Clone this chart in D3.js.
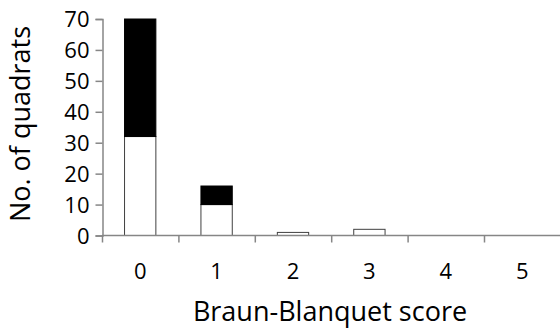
<!DOCTYPE html>
<html>
<head>
<meta charset="utf-8">
<script src="https://cdn.jsdelivr.net/npm/d3@7"></script>
<style>
  body { margin: 0; background: #fff; }
  text { font-family: "Open Sans", "Liberation Sans", sans-serif; fill: #000; }
</style>
</head>
<body>
<script>
// categories and the two stacked series
var scores = ["0", "1", "2", "3", "4", "5"];
var whiteVals = [32, 10, 1, 2, 0, 0];
var blackVals = [38, 6, 0, 0, 0, 0];
var yTicks = [0, 10, 20, 30, 40, 50, 60, 70];

var W = 560, H = 331;
var margin = {top: 19, right: 0, bottom: 96, left: 102};

var svg = d3.select("body").append("svg")
  .attr("width", W)
  .attr("height", H);

var x = d3.scaleBand()
  .domain(scores)
  .range([margin.left, margin.left + 6 * 76.4])
  .paddingInner(0)
  .paddingOuter(0);

var y = d3.scaleLinear()
  .domain([0, 70])
  .range([H - margin.bottom + 0.5, margin.top]);

var barW = x.bandwidth() * 0.41;

var data = scores.map(function(s, i) {
  return {score: s, white: whiteVals[i], black: blackVals[i]};
});

// white part
svg.selectAll(".wbar")
  .data(data.filter(function(d) { return d.white > 0; }))
  .enter().append("rect")
  .attr("class", "wbar")
  .attr("x", function(d) { return x(d.score) + (x.bandwidth() - barW) / 2; })
  .attr("width", barW)
  .attr("y", function(d) { return y(d.white); })
  .attr("height", function(d) { return y(0) - y(d.white); })
  .attr("fill", "#fff")
  .attr("stroke", "#404040")
  .attr("stroke-width", 1);

// black part on top
svg.selectAll(".bbar")
  .data(data.filter(function(d) { return d.black > 0; }))
  .enter().append("rect")
  .attr("class", "bbar")
  .attr("x", function(d) { return x(d.score) + (x.bandwidth() - barW) / 2; })
  .attr("width", barW)
  .attr("y", function(d) { return y(d.white + d.black); })
  .attr("height", function(d) { return y(d.white) - y(d.white + d.black); })
  .attr("fill", "#000")
  .attr("stroke", "#000")
  .attr("stroke-width", 1);

// y axis
var yAxis = d3.axisLeft(y).tickValues(yTicks).tickSize(7).tickPadding(6);
var gy = svg.append("g")
  .attr("transform", "translate(" + (margin.left + 0.5) + ",0)")
  .call(yAxis);
gy.select(".domain").attr("stroke", "#868686").attr("stroke-width", 1.5);
gy.selectAll(".tick line").attr("stroke", "#868686").attr("stroke-width", 1.5);
gy.selectAll(".tick text").style("font-size", "22px").attr("dy", "0.36em");

// x axis: ticks at band boundaries, labels at band centres
var xb = d3.scaleLinear().domain([0, 6]).range([margin.left, margin.left + 6 * 76.4]);
var gx = svg.append("g")
  .attr("transform", "translate(0," + y(0) + ")");
gx.append("line")
  .attr("x1", margin.left).attr("x2", W)
  .attr("stroke", "#868686").attr("stroke-width", 1.5);
gx.selectAll(".xt")
  .data(d3.range(0, 6))
  .enter().append("line")
  .attr("class", "xt")
  .attr("x1", function(d) { return xb(d) + 0.5; })
  .attr("x2", function(d) { return xb(d) + 0.5; })
  .attr("y1", 0).attr("y2", 7)
  .attr("stroke", "#868686").attr("stroke-width", 1.5);
gx.selectAll(".xl")
  .data(scores)
  .enter().append("text")
  .attr("class", "xl")
  .attr("x", function(d) { return x(d) + x.bandwidth() / 2; })
  .attr("y", 43)
  .attr("text-anchor", "middle")
  .style("font-size", "22px")
  .text(function(d) { return d; });

// axis titles
svg.append("text")
  .attr("x", 330)
  .attr("y", 321)
  .attr("text-anchor", "middle")
  .style("font-size", "27px")
  .text("Braun-Blanquet score");

svg.append("text")
  .attr("transform", "translate(30," + 124 + ") rotate(-90)")
  .attr("text-anchor", "middle")
  .style("font-size", "27px")
  .text("No. of quadrats");
</script>
</body>
</html>
